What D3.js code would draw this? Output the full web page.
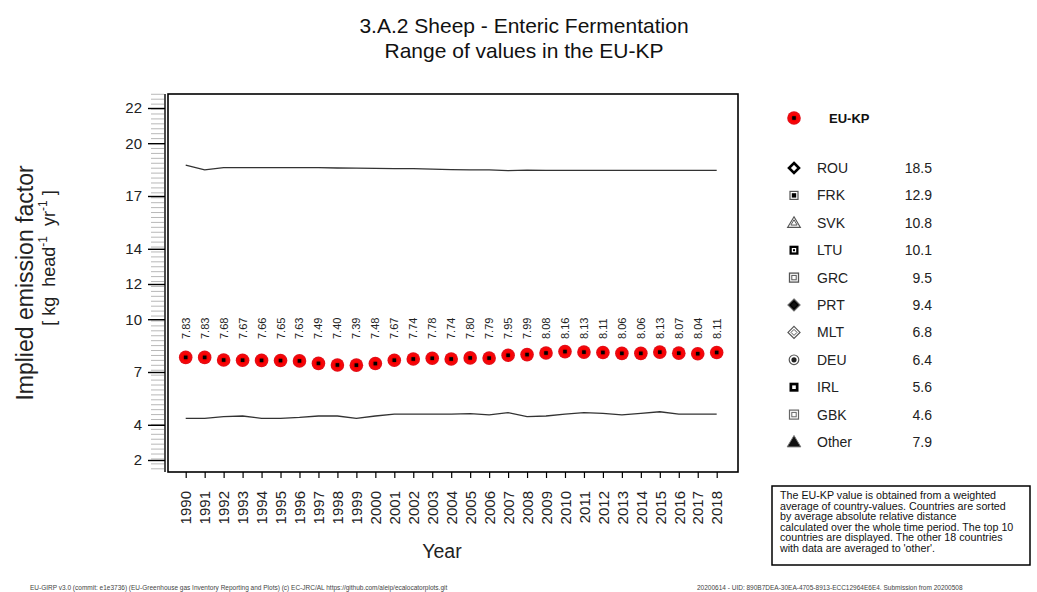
<!DOCTYPE html>
<html><head><meta charset="utf-8">
<script src="https://cdn.jsdelivr.net/npm/d3@7"></script>
<style>body{margin:0;background:#fff;} text{font-family:"Liberation Sans",Arial,sans-serif;}</style>
</head><body>
<svg id="c" width="1037" height="592"></svg>
<script>
const years = d3.range(1990, 2019);
const euValues = [7.83,7.83,7.68,7.67,7.66,7.65,7.63,7.49,7.40,7.39,7.48,7.67,7.74,7.78,7.74,7.80,7.79,7.95,7.99,8.08,8.16,8.13,8.11,8.06,8.06,8.13,8.07,8.04,8.11];
const upperLine = [18.76,18.48,18.61,18.61,18.61,18.61,18.61,18.61,18.59,18.58,18.57,18.56,18.55,18.53,18.50,18.48,18.48,18.44,18.47,18.46,18.46,18.46,18.46,18.46,18.46,18.46,18.46,18.46,18.46];
const lowerLine = [4.37,4.37,4.46,4.50,4.37,4.37,4.42,4.50,4.50,4.37,4.50,4.61,4.61,4.61,4.61,4.63,4.56,4.69,4.46,4.50,4.61,4.69,4.65,4.56,4.65,4.74,4.61,4.61,4.61];
const yTicks = [2,4,7,10,12,14,17,20,22];
const legendNames = ["ROU","FRK","SVK","LTU","GRC","PRT","MLT","DEU","IRL","GBK","Other"];
const legendValues = ["18.5","12.9","10.8","10.1","9.5","9.4","6.8","6.4","5.6","4.6","7.9"];
const noteLines = ["The EU-KP value is obtained from a weighted","average of country-values. Countries are sorted","by average absolute relative distance","calculated over the whole time period. The top 10","countries are displayed. The other 18 countries","with data are averaged to 'other'."];

const svg = d3.select("#c");
const L=168, R=738, T=94, B=472;
const x = d3.scaleLinear().domain([1990,2018]).range([185.7,716.7]);
const y = d3.scaleLinear().domain([2,22]).range([460,108]);

// title
svg.append("text").attr("x",524).attr("y",33).attr("text-anchor","middle").attr("font-size",21).attr("fill","#111").text("3.A.2 Sheep - Enteric Fermentation");
svg.append("text").attr("x",524).attr("y",58).attr("text-anchor","middle").attr("font-size",21).attr("fill","#111").text("Range of values in the EU-KP");

// frame
svg.append("rect").attr("x",L).attr("y",T).attr("width",R-L).attr("height",B-T).attr("fill","none").attr("stroke","#000").attr("stroke-width",1.6);

// minor ticks
const minor = d3.range(1.5,22.8,0.28);
svg.append("g").selectAll("line").data(minor).join("line")
  .attr("x1",151).attr("x2",164).attr("y1",d=>y(d)).attr("y2",d=>y(d))
  .attr("stroke","#b8b8b8").attr("stroke-width",1);

// y axis
const yAxis = d3.axisLeft(y).tickValues(yTicks).tickSize(17).tickPadding(6).tickFormat(d3.format("d"));
const gy = svg.append("g").attr("transform","translate(165,0)").call(yAxis);
gy.select(".domain").attr("stroke","#000").attr("stroke-width",1.4).attr("d","M0,"+T+"V"+B);
gy.selectAll(".tick line").attr("stroke","#000").attr("stroke-width",1.4);
gy.selectAll(".tick text").attr("font-size",15).attr("fill","#222").attr("font-family","Liberation Sans, Arial, sans-serif");

// x axis
const xAxis = d3.axisBottom(x).tickValues(years).tickSize(6).tickFormat(d3.format("d"));
const gx = svg.append("g").attr("transform","translate(0,"+B+")").call(xAxis);
gx.select(".domain").remove();
gx.selectAll(".tick line").attr("stroke","#000").attr("stroke-width",1.2);
gx.selectAll(".tick text").attr("font-size",15).attr("fill","#222").attr("font-family","Liberation Sans, Arial, sans-serif")
  .attr("transform","rotate(-90)").attr("text-anchor","end").attr("x",-19).attr("y",0).attr("dy","0.35em");

// range lines
const line = d3.line().x((d,i)=>x(years[i])).y(d=>y(d));
svg.append("path").attr("d",line(upperLine)).attr("fill","none").attr("stroke","#333").attr("stroke-width",1.3);
svg.append("path").attr("d",line(lowerLine)).attr("fill","none").attr("stroke","#333").attr("stroke-width",1.3);

// EU-KP points
const defs = svg.append("defs");
const rg = defs.append("radialGradient").attr("id","rg");
rg.append("stop").attr("offset","0%").attr("stop-color","#b00000");
rg.append("stop").attr("offset","55%").attr("stop-color","#ff0000");
rg.append("stop").attr("offset","100%").attr("stop-color","#e0101a");
const pts = svg.append("g");
pts.selectAll("circle.o").data(euValues).join("circle").attr("class","o")
  .attr("cx",(d,i)=>x(years[i])).attr("cy",d=>y(d)).attr("r",6.8).attr("fill","url(#rg)");
pts.selectAll("rect.c").data(euValues).join("rect").attr("class","c")
  .attr("x",(d,i)=>x(years[i])-1.8).attr("y",d=>y(d)-1.8).attr("width",3.6).attr("height",3.6).attr("fill","#000");
svg.append("g").selectAll("text").data(euValues).join("text")
  .attr("transform",(d,i)=>"translate("+(x(years[i])+4)+",339) rotate(-90)")
  .attr("font-size",11).attr("fill","#222").text(d=>d3.format(".2f")(d));

// axis titles
svg.append("text").attr("transform","translate(33,283) rotate(-90)").attr("text-anchor","middle").attr("font-size",23).attr("fill","#222").text("Implied emission factor");
const t2 = svg.append("text").attr("transform","translate(55,258) rotate(-90)").attr("text-anchor","middle").attr("font-size",18).attr("fill","#222").attr("xml:space","preserve").style("white-space","pre");
t2.append("tspan").text("[ kg  head");
t2.append("tspan").attr("dy",-8).attr("font-size",12).text("-1");
t2.append("tspan").attr("dy",8).text("  yr");
t2.append("tspan").attr("dy",-8).attr("font-size",12).text("-1");
t2.append("tspan").attr("dy",8).text(" ]");
svg.append("text").attr("x",442).attr("y",558).attr("text-anchor","middle").attr("font-size",19.5).attr("fill","#222").text("Year");

// legend
svg.append("circle").attr("cx",794).attr("cy",118).attr("r",6.8).attr("fill","url(#rg)");
svg.append("rect").attr("x",792.2).attr("y",116.2).attr("width",3.6).attr("height",3.6).attr("fill","#000");
svg.append("text").attr("x",829).attr("y",123).attr("font-size",13).attr("font-weight","bold").attr("fill","#111").text("EU-KP");
const ly = i => 168 + i*27.4;
const lg = svg.append("g");
lg.selectAll("text.n").data(legendNames).join("text").attr("class","n")
  .attr("x",817).attr("y",(d,i)=>ly(i)+5).attr("font-size",14).attr("fill","#222").text(d=>d);
lg.selectAll("text.v").data(legendValues).join("text").attr("class","v")
  .attr("x",932).attr("y",(d,i)=>ly(i)+5).attr("text-anchor","end").attr("font-size",14).attr("fill","#222").text(d=>d);
function sym(i){
  const g = lg.append("g").attr("transform","translate(794,"+ly(i)+")");
  const sq=(s,f,st,sw)=>g.append("rect").attr("x",-s).attr("y",-s).attr("width",2*s).attr("height",2*s).attr("fill",f).attr("stroke",st||"none").attr("stroke-width",sw||0);
  const dm=(s,f,st,sw)=>g.append("path").attr("d",`M0,${-s}L${s},0L0,${s}L${-s},0Z`).attr("fill",f).attr("stroke",st||"none").attr("stroke-width",sw||0);
  const tr=(s,f,st,sw)=>g.append("path").attr("d",`M0,${-s}L${s*1.05},${s*0.75}L${-s*1.05},${s*0.75}Z`).attr("fill",f).attr("stroke",st||"none").attr("stroke-width",sw||0);
  switch(i){
    case 0: dm(5,"#fff","#000",2.6); break;
    case 1: sq(4,"#fff","#555",1.2); sq(2.2,"#000"); break;
    case 2: tr(6,"#fff","#555",1.2); tr(3,"#fff","#555",1); break;
    case 3: sq(4.5,"#000"); sq(2.2,"#fff"); sq(1,"#000"); break;
    case 4: sq(4.5,"#fff","#555",1.3); sq(2.2,"#fff","#555",1); break;
    case 5: dm(6,"#000","#666",1.2); dm(3,"#111"); break;
    case 6: dm(6,"#fff","#555",1.2); dm(3,"#fff","#555",1); break;
    case 7: g.append("circle").attr("r",4.8).attr("fill","#fff").attr("stroke","#555").attr("stroke-width",1.2); g.append("circle").attr("r",2.6).attr("fill","#222"); break;
    case 8: sq(4.5,"#000"); sq(1.8,"#fff"); break;
    case 9: sq(4.5,"#fff","#666",1.2); sq(2.2,"#fff","#666",1); break;
    case 10: tr(6.5,"#111","#777",1); break;
  }
}
legendNames.forEach((d,i)=>sym(i));

// note box
svg.append("rect").attr("x",772).attr("y",486).attr("width",258).attr("height",79).attr("fill","#fff").attr("stroke","#000").attr("stroke-width",1.5);
svg.append("g").selectAll("text").data(noteLines).join("text")
  .attr("x",780).attr("y",(d,i)=>499+i*10.6).attr("font-size",10.7).attr("fill","#111").text(d=>d);

// footer
svg.append("text").attr("x",30).attr("y",590).attr("font-size",6.5).attr("fill","#444").text("EU-GIRP v3.0 (commit: e1e3736) (EU-Greenhouse gas Inventory Reporting and Plots) (c) EC-JRC/AL https://github.com/aleip/ecalocatorplots.git");
svg.append("text").attr("x",697).attr("y",590).attr("font-size",6.5).attr("fill","#444").text("20200614 - UID: 890B7DEA-30EA-4705-8913-ECC12964E6E4. Submission from 20200508");
</script>
</body></html>
